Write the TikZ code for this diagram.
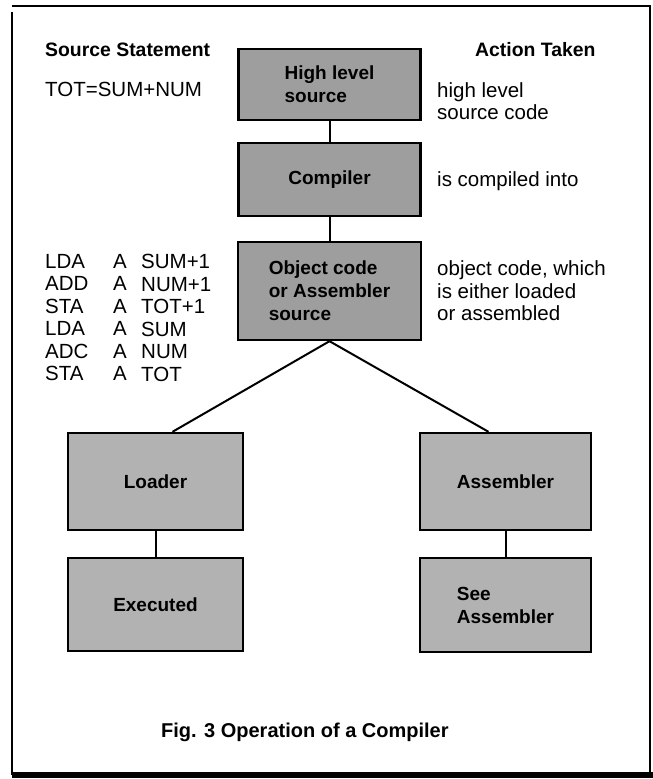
\documentclass[tikz,border=0pt]{standalone}
\usepackage{fontspec}
\setmainfont{Liberation Sans}
\begin{document}
\begin{tikzpicture}[x=1pt,y=-1pt,
  box/.style={draw=black, line width=2.4pt, fill=black!38, inner sep=0pt,
    align=left, font=\fontsize{19}{23}\selectfont\bfseries},
  lowbox/.style={box, fill=black!30},
  conn/.style={draw=black, line width=2pt},
  head/.style={anchor=west, inner sep=0pt, font=\fontsize{19.4}{23}\selectfont\bfseries},
  txt/.style={anchor=west, inner sep=0pt, align=left, font=\fontsize{20.5}{22.5}\selectfont},
  frame/.style={draw=black, line width=1.4pt}]
\useasboundingbox (0,0) rectangle (653,779);
% frame
\draw[frame] (12,6) -- (651,6);
\draw[frame] (12,12) -- (12,775);
\draw[frame] (650,6) -- (650,775);
\draw[line width=6pt] (12,775) -- (653,775);

% boxes
\node[box, minimum width=182pt, minimum height=71pt] (H) at (329.5,84.5) {High level\\source};
\node[box, minimum width=182pt, minimum height=73pt] (C) at (329.5,179.5) {Compiler};
\node[box, minimum width=183pt, minimum height=98pt] (O) at (329.5,291) {Object code\\or Assembler\\source};
\node[lowbox, minimum width=175pt, minimum height=97pt] (L) at (155.5,481.5) {Loader};
\node[lowbox, minimum width=171pt, minimum height=97pt] (A) at (505.5,481.5) {Assembler};
\node[lowbox, minimum width=175pt, minimum height=93pt] (E) at (155.5,604.5) {Executed};
\node[lowbox, minimum width=171pt, minimum height=94pt] (S) at (505.5,605) {See\\Assembler};

% connectors
\draw[conn] (H) -- (C);
\draw[conn] (C) -- (O);
\draw[conn] (O.south) -- ([xshift=17pt]L.north);
\draw[conn] (O.south) -- ([xshift=-17pt]A.north);
\draw[conn] (L) -- (E);
\draw[conn] (A) -- (S);

% headings
\node[head] (srchead) at (45,50) {Source Statement};
\node[head] (acthead) at (475,50) {Action Taken};

% left column
\node[txt] (stmt) at (45,89) {TOT=SUM+NUM};
\node[txt, anchor=north west] (op) at (45,254) {LDA\\ADD\\STA\\LDA\\ADC\\STA};
\node[txt, anchor=north west] (reg) at (113,254) {A\\A\\A\\A\\A\\A};
\node[txt, anchor=north west] (arg) at (141,254) {SUM+1\\NUM+1\\TOT+1\\SUM\\NUM\\TOT};

% right column
\node[txt] (a1) at (437,101) {high level\\source code};
\node[txt] (a2) at (437,181) {is compiled into};
\node[txt] (a3) at (437,291) {object code, which\\is either loaded\\or assembled};

% caption
\node[head, font=\fontsize{20}{24}\selectfont\bfseries] (cap) at (161,732) {Fig. 3 Operation of a Compiler};
\end{tikzpicture}
\end{document}
